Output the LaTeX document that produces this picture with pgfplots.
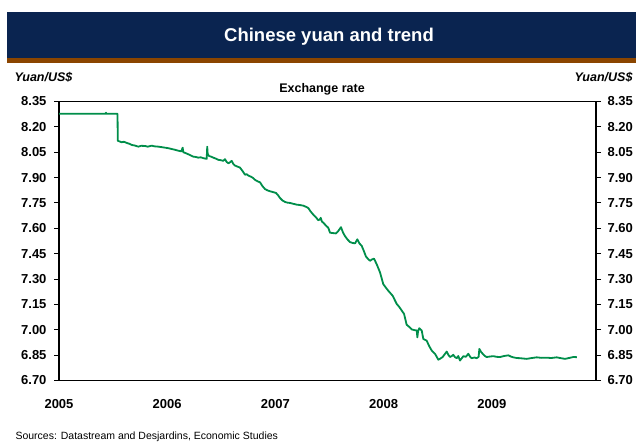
\documentclass[border=0pt]{standalone}
\usepackage{fontspec}
\setmainfont{Liberation Sans}
\usepackage{pgfplots}
\pgfplotsset{compat=1.18}
\definecolor{navy}{RGB}{10,36,80}
\definecolor{brownbar}{RGB}{139,69,0}
\definecolor{linegreen}{RGB}{0,142,74}
\begin{document}
\begin{tikzpicture}
\path[use as bounding box] (0pt,0pt) rectangle (636pt,-445pt);
\fill[navy] (7pt,-12pt) rectangle (636pt,-58pt);
\fill[brownbar] (7pt,-58pt) rectangle (636pt,-63pt);
\node[white, font=\fontsize{18.5}{21}\selectfont\bfseries] at (329pt,-37pt) {Chinese yuan and trend};
\node[anchor=west, font=\fontsize{12.5}{14}\selectfont\bfseries\itshape] at (11pt,-77pt) {Yuan/US\$};
\node[anchor=east, font=\fontsize{12.5}{14}\selectfont\bfseries\itshape] at (636pt,-77pt) {Yuan/US\$};
\node[font=\fontsize{12.5}{14}\selectfont\bfseries] at (322pt,-89pt) {Exchange rate};
\node[anchor=west, font=\fontsize{10.5}{12}\selectfont] at (12pt,-437pt) {Sources: Datastream and Desjardins, Economic Studies};
\begin{axis}[
  at={(59pt,-101.5pt)}, anchor=north west,
  width=537pt, height=279pt, scale only axis,
  xmin=2005, xmax=2009.963, ymin=6.7, ymax=8.35,
  axis line style={black, line width=1.3pt},
  xtick={2005,2006,2007,2008,2009},
  xticklabels={2005,2006,2007,2008,2009},
  x tick style={draw=none},
  xticklabel style={font=\fontsize{13}{15}\selectfont\bfseries, yshift=-10pt},
  ytick={6.7,6.85,7.0,7.15,7.3,7.45,7.6,7.75,7.9,8.05,8.2,8.35},
  yticklabels={6.70,6.85,7.00,7.15,7.30,7.45,7.60,7.75,7.90,8.05,8.20,8.35},
  ytick pos=left, xtick pos=bottom,
  tick align=outside, major tick length=5pt,
  y tick style={black, line width=1pt},
  yticklabel style={font=\fontsize{13}{15}\selectfont\bfseries, xshift=-4pt},
  clip=false,
]
\addplot[linegreen, line width=1.8pt, line join=round] coordinates {
(2005.000,8.277)(2005.430,8.277)(2005.434,8.284)(2005.438,8.277)(2005.541,8.277)
(2005.543,8.118)(2005.579,8.109)(2005.600,8.112)(2005.626,8.105)(2005.650,8.100)
(2005.672,8.093)(2005.700,8.090)(2005.733,8.083)(2005.760,8.088)(2005.795,8.087)
(2005.820,8.083)(2005.857,8.089)(2005.880,8.085)(2005.918,8.083)(2005.950,8.080)
(2005.980,8.077)(2006.010,8.074)(2006.042,8.069)(2006.075,8.064)(2006.103,8.059)
(2006.130,8.055)(2006.140,8.072)(2006.143,8.077)(2006.149,8.050)(2006.170,8.045)
(2006.195,8.038)(2006.220,8.030)(2006.241,8.024)(2006.265,8.022)(2006.287,8.018)
(2006.310,8.020)(2006.334,8.015)(2006.365,8.011)(2006.370,8.083)(2006.374,8.040)
(2006.386,8.028)(2006.405,8.024)(2006.426,8.018)(2006.450,8.012)(2006.472,8.005)
(2006.495,8.003)(2006.518,7.999)(2006.534,8.009)(2006.550,7.992)(2006.565,7.985)
(2006.580,7.990)(2006.596,7.999)(2006.610,7.982)(2006.627,7.971)(2006.650,7.965)
(2006.673,7.959)(2006.695,7.940)(2006.719,7.917)(2006.735,7.920)(2006.750,7.912)
(2006.775,7.905)(2006.796,7.897)(2006.811,7.887)(2006.835,7.878)(2006.858,7.872)
(2006.880,7.850)(2006.904,7.832)(2006.925,7.825)(2006.950,7.819)(2006.975,7.815)
(2007.006,7.809)(2007.025,7.795)(2007.043,7.779)(2007.065,7.765)(2007.089,7.756)
(2007.110,7.752)(2007.135,7.750)(2007.165,7.745)(2007.197,7.740)(2007.225,7.738)
(2007.258,7.734)(2007.280,7.728)(2007.304,7.720)(2007.325,7.700)(2007.350,7.681)
(2007.375,7.665)(2007.396,7.648)(2007.410,7.652)(2007.419,7.662)(2007.430,7.640)
(2007.443,7.633)(2007.465,7.618)(2007.489,7.603)(2007.505,7.574)(2007.530,7.572)
(2007.560,7.570)(2007.581,7.584)(2007.606,7.607)(2007.625,7.575)(2007.643,7.554)
(2007.665,7.535)(2007.689,7.519)(2007.710,7.514)(2007.736,7.511)(2007.757,7.535)
(2007.775,7.512)(2007.798,7.496)(2007.818,7.465)(2007.837,7.433)(2007.855,7.420)
(2007.874,7.408)(2007.890,7.415)(2007.911,7.421)(2007.936,7.388)(2007.967,7.339)
(2007.997,7.270)(2008.020,7.250)(2008.043,7.231)(2008.065,7.215)(2008.084,7.201)
(2008.100,7.180)(2008.121,7.153)(2008.145,7.135)(2008.167,7.114)(2008.189,7.094)
(2008.213,7.030)(2008.235,7.018)(2008.260,7.002)(2008.285,6.998)(2008.306,6.996)
(2008.312,6.955)(2008.318,6.990)(2008.330,7.009)(2008.352,6.996)(2008.367,6.946)
(2008.398,6.936)(2008.420,6.905)(2008.445,6.877)(2008.475,6.858)(2008.506,6.823)
(2008.525,6.830)(2008.546,6.839)(2008.583,6.871)(2008.600,6.850)(2008.614,6.839)
(2008.630,6.845)(2008.644,6.852)(2008.660,6.838)(2008.676,6.832)(2008.690,6.845)
(2008.706,6.818)(2008.737,6.844)(2008.760,6.840)(2008.783,6.858)(2008.800,6.840)
(2008.814,6.832)(2008.840,6.836)(2008.860,6.832)(2008.878,6.840)(2008.885,6.887)
(2008.900,6.870)(2008.916,6.858)(2008.935,6.845)(2008.953,6.839)(2008.985,6.842)
(2009.014,6.844)(2009.045,6.840)(2009.076,6.839)(2009.115,6.845)(2009.153,6.849)
(2009.175,6.842)(2009.199,6.837)(2009.230,6.833)(2009.261,6.832)(2009.290,6.830)
(2009.323,6.828)(2009.370,6.833)(2009.415,6.837)(2009.460,6.834)(2009.507,6.835)
(2009.550,6.833)(2009.600,6.837)(2009.640,6.832)(2009.677,6.828)(2009.720,6.834)
(2009.753,6.839)(2009.787,6.838)
};
\end{axis}
\begin{axis}[
  at={(59pt,-101.5pt)}, anchor=north west,
  width=537pt, height=279pt, scale only axis,
  xmin=2005, xmax=2009.963, ymin=6.7, ymax=8.35,
  hide x axis, axis y line*=right,
  axis line style={black, line width=1.3pt, -},
  ytick={6.7,6.85,7.0,7.15,7.3,7.45,7.6,7.75,7.9,8.05,8.2,8.35},
  yticklabels={6.70,6.85,7.00,7.15,7.30,7.45,7.60,7.75,7.90,8.05,8.20,8.35},
  tick align=outside, major tick length=5pt,
  y tick style={black, line width=1pt},
  yticklabel style={font=\fontsize{13}{15}\selectfont\bfseries, xshift=3pt},
]
\end{axis}
\end{tikzpicture}
\end{document}
